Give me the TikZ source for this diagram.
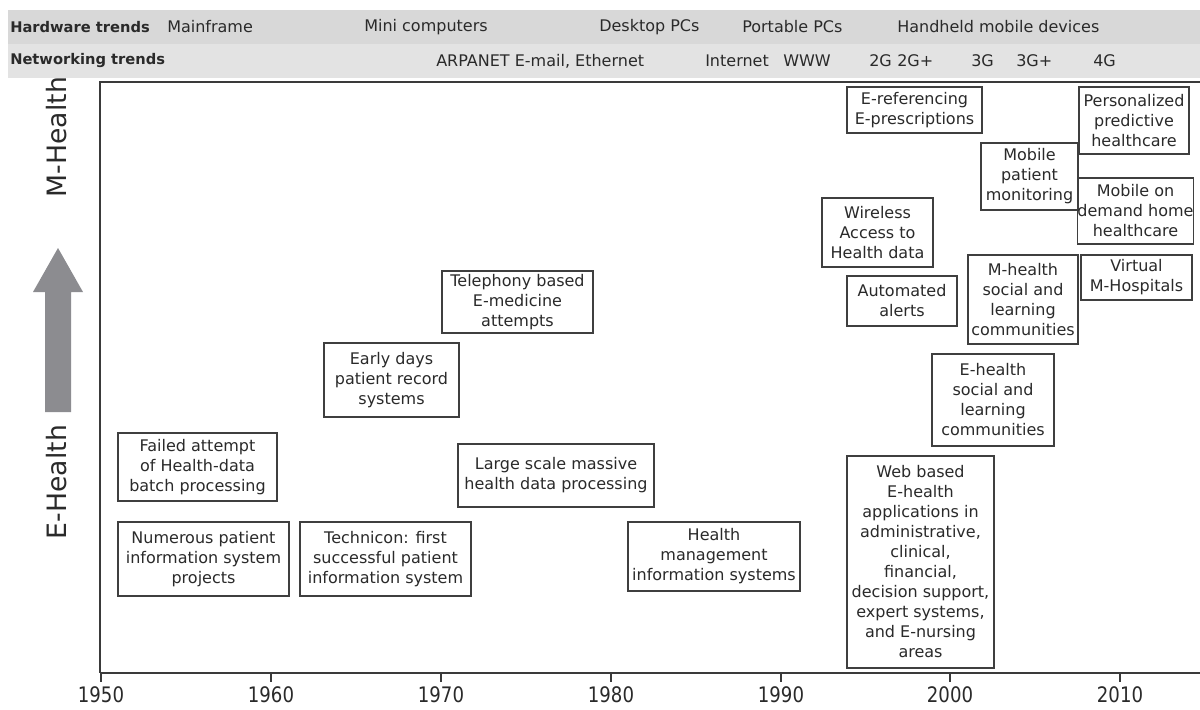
\documentclass[tikz,border=0pt]{standalone}
\usepackage{fontspec}
\setmainfont{DejaVu Sans}
\definecolor{boxline}{HTML}{3F3F3F}
\definecolor{txt}{HTML}{2A2A2A}
\definecolor{barA}{HTML}{D8D8D8}
\definecolor{barB}{HTML}{E3E3E3}
\definecolor{arrowgray}{HTML}{8C8C90}
\definecolor{axisgray}{HTML}{3A3A3A}
\newcommand\mybox[6]{\node[box, minimum width={(#4-#2)*0.75pt}, minimum height={(#5-#3)*0.75pt}] (#1) at ({(#2+#4)/2},{(#3+#5)/2}) {#6};}
\begin{document}
\begin{tikzpicture}[x=0.75pt,y=-0.75pt,
  box/.style={draw=boxline, line width=1.3pt, inner sep=0pt, align=center, text=txt,
    font=\fontsize{12}{15}\selectfont},
  bartext/.style={anchor=west, text=txt, font=\fontsize{12}{14}\selectfont, inner sep=0pt},
  barhead/.style={anchor=west, text=txt, font=\bfseries\fontsize{11}{13}\selectfont, inner sep=0pt},
  yearlab/.style={text=txt, font=\fontsize{16}{18}\selectfont, inner sep=0pt},
  sidelab/.style={rotate=90, text=txt, font=\fontsize{20}{24}\selectfont, inner sep=0pt},
  frameline/.style={draw=axisgray, line width=1.4pt},
  axisline/.style={draw=axisgray, line width=2.2pt},
  tickline/.style={draw=axisgray, line width=1.2pt}
]
\useasboundingbox (0,0) rectangle (1200,710);
\fill[white] (0,0) rectangle (1200,710);

% trend bars
\fill[barA] (8,10) rectangle (1200,44);
\fill[barB] (8,44) rectangle (1200,78);
\node[barhead] (hw) at (10,27) {Hardware trends};
\node[bartext] (hw1) at (167,27) {Mainframe};
\node[bartext] (hw2) at (364,27) {Mini computers};
\node[bartext] (hw3) at (599,27) {Desktop PCs};
\node[bartext] (hw4) at (742,27) {Portable PCs};
\node[bartext] (hw5) at (897,27) {Handheld mobile devices};
\node[barhead] (nw) at (10,61) {Networking trends};
\node[bartext] (nw1) at (436,61) {ARPANET E-mail, Ethernet};
\node[bartext] (nw2) at (705,61) {Internet};
\node[bartext] (nw3) at (783,61) {WWW};
\node[bartext] (nw4) at (869,61) {2G};
\node[bartext] (nw5) at (897,61) {2G+};
\node[bartext] (nw6) at (971,61) {3G};
\node[bartext] (nw7) at (1016,61) {3G+};
\node[bartext] (nw8) at (1093,61) {4G};

% frame and axis
\coordinate (tl) at (100,82);
\coordinate (tr) at (1200,82);
\coordinate (bl) at (100,673);
\coordinate (br) at (1200,673);
\draw[frameline] (tr) -- (tl) -- (bl);
\draw[axisline] (bl) -- (br);
\foreach \yr/\xx in {1950/101,1960/271,1970/441,1980/611,1990/781,2000/950,2010/1120}{
  \coordinate (t\yr) at (\xx,673);
  \draw[tickline] (t\yr) -- ++(0,9);
  \node[yearlab] (y\yr) at (\xx,695) {\scalebox{0.85}[1]{\yr}};
}

% side arrow and labels
\fill[arrowgray] (45,412) -- (45,292) -- (33,292) -- (58,248) -- (83,292) -- (71,292) -- (71,412) -- cycle;
\node[sidelab] (mh) at (57,137) {M-Health};
\node[sidelab] (eh) at (57,482) {E-Health};

% boxes
\mybox{failed}{118}{433}{277}{501}{Failed attempt\\of Health-data\\batch processing}
\mybox{numerous}{118}{522}{289}{596}{Numerous patient\\information system\\projects}
\mybox{technicon}{300}{522}{471}{596}{Technicon: first\\successful patient\\information system}
\mybox{early}{324}{343}{459}{417}{Early days\\patient record\\systems}
\mybox{telephony}{442}{271}{593}{333}{Telephony based\\E-medicine\\attempts}
\mybox{large}{458}{444}{654}{507}{Large scale massive\\health data processing}
\mybox{hmis}{628}{522}{800}{591}{Health\\management\\information systems}
\mybox{eref}{847}{87}{982}{133}{E-referencing\\E-prescriptions}
\mybox{wireless}{822}{198}{933}{267}{Wireless\\Access to\\Health data}
\mybox{alerts}{847}{276}{957}{326}{Automated\\alerts}
\mybox{web}{847}{456}{994}{668}{Web based\\E-health\\applications in\\administrative,\\clinical,\\financial,\\decision support,\\expert systems,\\and E-nursing\\areas}
\mybox{ehealth}{932}{354}{1054}{446}{E-health\\social and\\learning\\communities}
\mybox{mhealth}{968}{255}{1078}{344}{M-health\\social and\\learning\\communities}
\mybox{mobmon}{981}{143}{1078}{210}{Mobile\\patient\\monitoring}
\mybox{personal}{1079}{87}{1189}{154}{Personalized\\predictive\\healthcare}
\mybox{demand}{1078}{178}{1193}{244}{Mobile on\\demand home\\healthcare}
\mybox{virtual}{1081}{255}{1192}{300}{Virtual\\M-Hospitals}
\end{tikzpicture}
\end{document}
